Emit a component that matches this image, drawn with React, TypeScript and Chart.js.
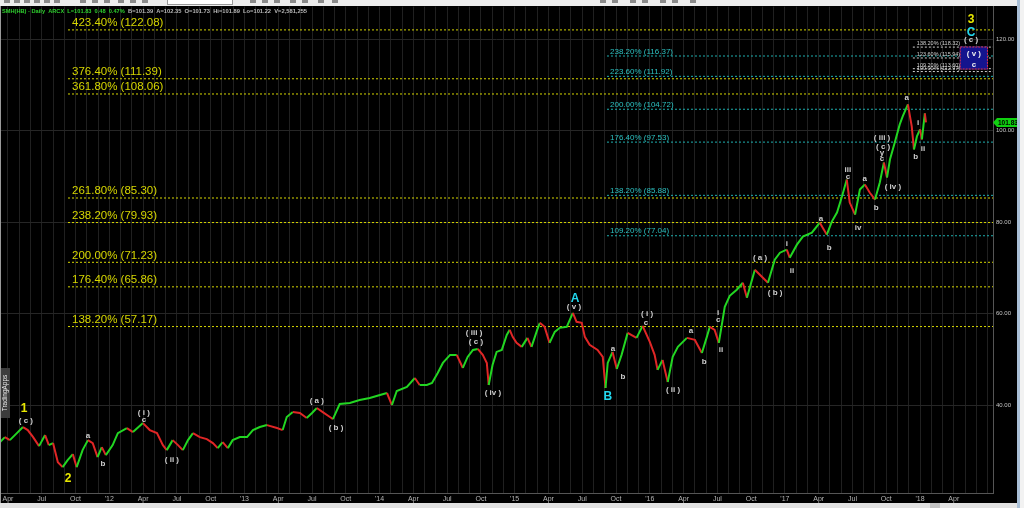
import React, { useEffect, useRef } from "react";
import { Chart, registerables } from "chart.js";

Chart.register(...registerables);

// ---------- data ----------
const priceDates = [
  "2011-03-10","2011-03-23","2011-04-06","2011-04-25","2011-05-11","2011-05-24","2011-06-08","2011-06-24",
  "2011-07-10","2011-07-20","2011-08-01","2011-08-14","2011-08-27","2011-09-10","2011-09-24","2011-10-04",
  "2011-10-20","2011-11-04","2011-11-17","2011-11-30","2011-12-11","2011-12-22","2012-01-10","2012-01-24",
  "2012-02-18","2012-03-04","2012-03-31","2012-04-19","2012-05-08","2012-05-24","2012-06-04","2012-06-20",
  "2012-07-04","2012-07-17","2012-07-31","2012-08-14","2012-09-02","2012-09-21","2012-10-07","2012-10-20",
  "2012-11-03","2012-11-17","2012-11-30","2012-12-19","2013-01-08","2013-01-24","2013-02-12","2013-03-01",
  "2013-03-28","2013-04-13","2013-04-24","2013-05-10","2013-05-29","2013-06-17","2013-07-01","2013-07-14",
  "2013-07-30","2013-08-19","2013-08-27","2013-09-15","2013-10-12","2013-11-08","2013-12-05","2014-01-02",
  "2014-01-21","2014-02-04","2014-02-17","2014-03-14","2014-04-05","2014-04-18","2014-05-07","2014-05-21",
  "2014-06-06","2014-06-20","2014-07-09","2014-07-27","2014-08-13","2014-08-26","2014-09-10","2014-09-23",
  "2014-10-06","2014-10-17","2014-10-22","2014-11-02","2014-11-13","2014-11-27","2014-12-10","2014-12-18",
  "2014-12-26","2015-01-06","2015-01-20","2015-02-05","2015-02-16","2015-03-01","2015-03-08","2015-03-21",
  "2015-04-04","2015-04-18","2015-05-01","2015-05-20","2015-06-06","2015-06-16","2015-06-30","2015-07-08",
  "2015-07-21","2015-08-12","2015-08-26","2015-09-03","2015-09-09","2015-09-22","2015-10-03","2015-10-16",
  "2015-11-02","2015-11-26","2015-12-12","2016-01-01","2016-01-14","2016-01-22","2016-02-05","2016-02-19",
  "2016-03-02","2016-03-16","2016-04-10","2016-05-01","2016-05-20","2016-06-03","2016-06-11","2016-06-24",
  "2016-07-05","2016-07-21","2016-08-04","2016-08-23","2016-09-09","2016-09-20","2016-10-11","2016-10-30",
  "2016-11-16","2016-12-04","2016-12-18","2017-01-06","2017-01-14","2017-02-03","2017-02-19","2017-03-13",
  "2017-04-04","2017-04-23","2017-05-06","2017-05-20","2017-06-03","2017-06-16","2017-06-24","2017-07-08",
  "2017-07-21","2017-08-04","2017-08-17","2017-09-01","2017-09-14","2017-09-25","2017-10-03","2017-10-11",
  "2017-10-24","2017-11-07","2017-11-15","2017-11-29","2017-12-09","2017-12-15","2017-12-23","2018-01-01",
  "2018-01-06","2018-01-14","2018-01-17",
];
const priceCloses = [
  31.89,32.98,32.32,33.86,35.18,34.52,32.98,31.01,
  33.42,31.23,31.67,27.5,26.4,27.94,29.25,26.4,
  30.13,32.32,31.67,28.6,30.79,29.04,31.23,33.86,
  34.96,34.08,36.05,34.52,33.86,31.23,30.13,32.32,
  31.23,30.13,32.32,33.86,32.98,32.54,31.67,30.57,
  31.89,30.57,32.32,32.98,32.98,34.52,35.18,35.61,
  34.96,34.52,37.37,38.46,38.25,37.15,38.25,39.34,
  38.46,37.37,36.93,40.22,40.44,41.1,41.54,42.19,
  42.63,40.0,43.07,43.95,45.92,44.39,44.39,44.82,
  47.02,49.21,50.97,50.97,48.11,50.53,52.06,52.28,
  50.97,49.21,44.39,48.77,51.62,52.06,55.35,56.45,
  54.91,53.6,52.72,54.69,52.72,56.45,57.98,57.11,
  53.6,56.01,56.89,57.11,60.18,58.2,57.98,54.91,
  53.16,52.06,50.53,43.73,49.21,51.62,47.89,50.97,
  55.79,54.69,57.32,53.82,50.97,47.68,49.87,45.04,
  50.53,52.72,54.69,54.25,51.4,54.91,57.11,56.45,
  53.6,61.49,63.9,65.22,66.75,63.46,69.61,68.07,
  66.75,71.8,73.33,73.99,72.24,75.09,76.84,77.72,
  79.91,77.28,80.13,82.11,85.62,89.34,84.3,81.67,
  87.15,88.25,86.49,84.96,88.68,93.07,89.78,93.73,
  97.46,101.4,103.16,105.8,100.97,95.92,98.77,100.31,
  98.11,103.8,101.83,
];

const yellowRatios = ["138.20%","176.40%","200.00%","238.20%","261.80%","361.80%","376.40%","423.40%"];
const yellowLevels = [57.17, 65.86, 71.23, 79.93, 85.3, 108.06, 111.39, 122.08];
const yellowFrom = "2011-09-11";

const tealRatios = ["109.20%","138.20%","176.40%","200.00%","223.60%","238.20%"];
const tealLevels = [77.04, 85.88, 97.53, 104.72, 111.92, 116.37];
const tealFrom = "2015-09-07";

const targetRatios = ["100.00%","109.20%","123.60%","138.20%"];
const targetLevels = [112.97, 113.6, 115.94, 118.32];
const targetFrom = "2017-12-12";

const targetBoxDates = ["2018-04-17", "2018-07-02"];
const targetBoxPrices = [113.41, 118.44];
const targetBoxText = ["( v )", "c"];
const targetBoxTextPrices = [116.8, 114.5];

const waveText = [
  "1","( c )","2","a","b","( i )","c","( ii )","( a )","( b )","( iii )","( c )","( iv )",
  "A","( v )","B","a","b","( i )","c","( ii )","a","b","i","c","ii",
  "( a )","( b )","i","ii","a","b","iii","c","iv","a","b",
  "( iii )","( c )","y","c","( iv )","a","b","i","ii","3","C","( c )",
];
const waveDates = [
  "2011-05-14","2011-05-19","2011-09-11","2011-11-04","2011-12-14","2012-04-03","2012-04-03","2012-06-18",
  "2013-07-14","2013-09-05","2014-09-13","2014-09-18","2014-11-03",
  "2015-06-12","2015-06-09","2015-09-09","2015-09-23","2015-10-20","2015-12-24","2015-12-21","2016-03-03",
  "2016-04-21","2016-05-26","2016-07-03","2016-07-03","2016-07-11",
  "2016-10-25","2016-12-05","2017-01-06","2017-01-20","2017-04-07","2017-04-29","2017-06-19","2017-06-19",
  "2017-07-16","2017-08-04","2017-09-04",
  "2017-09-20","2017-09-23","2017-09-20","2017-09-20","2017-10-19","2017-11-26","2017-12-20","2017-12-26",
  "2018-01-09","2018-05-17","2018-05-17","2018-05-17",
];
const wavePrices = [
  39.1,36.48,23.81,33.2,27.08,38.23,36.7,27.96,
  40.85,34.95,55.71,53.75,42.6,
  63.36,61.4,41.73,52.23,46.1,59.87,57.9,43.26,
  56.15,49.37,60.08,58.55,51.99,
  72.11,64.46,75.38,69.48,80.84,74.51,91.56,90.03,
  78.88,89.59,83.25,
  98.55,96.58,95.27,93.96,87.84,107.29,94.4,101.83,
  96.15,124.34,121.5,119.97,
];
const waveKinds = [
  "y","w","y","w","w","w","w","w","w","w","w","w","w",
  "c","w","c","w","w","w","w","w","w","w","w","w","w",
  "w","w","w","w","w","w","w","w","w","w","w",
  "w","w","w","w","w","w","w","w","w","y","c","w",
];

const xTickDates = [
  "2011-04-01","2011-07-01","2011-10-01","2012-01-01","2012-04-01","2012-07-01","2012-10-01","2013-01-01",
  "2013-04-01","2013-07-01","2013-10-01","2014-01-01","2014-04-01","2014-07-01","2014-10-01","2015-01-01",
  "2015-04-01","2015-07-01","2015-10-01","2016-01-01","2016-04-01","2016-07-01","2016-10-01","2017-01-01",
  "2017-04-01","2017-07-01","2017-10-01","2018-01-01","2018-04-01",
];
const xTickLabels = [
  "Apr","Jul","Oct","'12","Apr","Jul","Oct","'13","Apr","Jul","Oct","'14","Apr","Jul","Oct","'15",
  "Apr","Jul","Oct","'16","Apr","Jul","Oct","'17","Apr","Jul","Oct","'18","Apr",
];
const yTicks = [40, 60, 80, 100, 120];

const headerMain = "SMH(HB) - Daily  ARCX  L=101.83  0.48  0.47%";
const headerRest = "B=101.39  A=102.35  O=101.73  Hi=101.89  Lo=101.22  V=2,581,255";

// ---------- helpers / styles ----------
const X_MIN = 2.29, X_MAX = 90.48, Y_MIN = 20.75, Y_MAX = 127.18;
const toM = (d: string) => {
  const [y, m, dd] = d.split("-").map(Number);
  return (y - 2011) * 12 + (m - 1) + (dd - 1) / 30.4;
};
const GREEN = "#22d622";
const RED = "#e02626";
const YELLOW = "#d6d600";
const TEAL = "#1fb0b0";
const FONT = '"Liberation Sans", Arial, sans-serif';

const tickLabelMap = new Map<number, string>();
xTickDates.forEach((d, i) => tickLabelMap.set(Math.round(toM(d)), xTickLabels[i]));

function levelSets(levels: number[], from: string, color: string) {
  return levels.map((v) => ({
    data: [{ x: toM(from), y: v }, { x: X_MAX, y: v }],
    borderColor: color,
    borderWidth: 1,
    borderDash: [2, 2],
    pointRadius: 0,
    fill: false,
  }));
}

const decor = {
  id: "decor",
  beforeDraw(chart: any) {
    const ctx = chart.ctx;
    ctx.save();
    ctx.fillStyle = "#000";
    ctx.fillRect(0, 0, chart.width, chart.height);
    ctx.restore();
  },
  afterDatasetsDraw(chart: any) {
    const ctx = chart.ctx;
    const xs = chart.scales.x, ys = chart.scales.y;
    const X = (d: string) => xs.getPixelForValue(toM(d));
    const Y = (v: number) => ys.getPixelForValue(v);
    ctx.save();
    ctx.textAlign = "left";
    ctx.textBaseline = "alphabetic";
    ctx.font = `11.5px ${FONT}`;
    ctx.fillStyle = YELLOW;
    yellowLevels.forEach((v, i) => ctx.fillText(`${yellowRatios[i]} (${v.toFixed(2)})`, X(yellowFrom) + 4, Y(v) - 3.5));
    ctx.font = `8px ${FONT}`;
    ctx.fillStyle = "#2cc0c0";
    tealLevels.forEach((v, i) => ctx.fillText(`${tealRatios[i]} (${v.toFixed(2)})`, X(tealFrom) + 3, Y(v) - 2.5));
    const bx0 = X(targetBoxDates[0]), bx1 = X(targetBoxDates[1]);
    const by0 = Y(targetBoxPrices[1]), by1 = Y(targetBoxPrices[0]);
    ctx.fillStyle = "#14148e";
    ctx.fillRect(bx0, by0, bx1 - bx0, by1 - by0);
    ctx.strokeStyle = "#e0304a";
    ctx.lineWidth = 1;
    ctx.setLineDash([2, 1]);
    ctx.strokeRect(bx0 + 0.5, by0 + 0.5, bx1 - bx0 - 1, by1 - by0 - 1);
    ctx.setLineDash([]);
    ctx.font = `5.5px ${FONT}`;
    ctx.fillStyle = "#d0d0d0";
    targetLevels.forEach((v, i) => ctx.fillText(`${targetRatios[i]} (${v.toFixed(2)})`, X(targetFrom) + 4, Y(v) - 2));
    ctx.textAlign = "center";
    ctx.textBaseline = "middle";
    ctx.font = `bold 8px ${FONT}`;
    ctx.fillStyle = "#f0f0f0";
    targetBoxText.forEach((t, i) => ctx.fillText(t, (bx0 + bx1) / 2, Y(targetBoxTextPrices[i])));
    waveText.forEach((t, i) => {
      const k = waveKinds[i];
      if (k === "y") { ctx.font = `bold 12px ${FONT}`; ctx.fillStyle = "#e8e800"; }
      else if (k === "c") { ctx.font = `bold 12px ${FONT}`; ctx.fillStyle = "#22d8ee"; }
      else { ctx.font = `bold 8px ${FONT}`; ctx.fillStyle = "#cfcfcf"; }
      ctx.fillText(t, X(waveDates[i]), Y(wavePrices[i]));
    });
    ctx.restore();
  },
  afterDraw(chart: any) {
    const ctx = chart.ctx;
    const ys = chart.scales.y;
    const W = chart.width, H = chart.height;
    ctx.save();
    ctx.textAlign = "left";
    ctx.textBaseline = "middle";
    ctx.font = `bold 7px ${FONT}`;
    const mw = ctx.measureText(headerMain).width;
    const s1 = 7 * 123 / mw;
    ctx.font = `bold ${s1.toFixed(2)}px ${FONT}`;
    ctx.fillStyle = "#2ed02e";
    ctx.fillText(headerMain, 2, 11);
    ctx.font = `bold 7px ${FONT}`;
    const rw = ctx.measureText(headerRest).width;
    const s2 = 7 * 179 / rw;
    ctx.font = `bold ${s2.toFixed(2)}px ${FONT}`;
    ctx.fillStyle = "#b8b8b8";
    ctx.fillText(headerRest, 128, 11);
    const last = priceCloses[priceCloses.length - 1];
    const ty = ys.getPixelForValue(last);
    ctx.fillStyle = "#10d010";
    ctx.beginPath();
    ctx.moveTo(993, ty);
    ctx.lineTo(997, ty - 4.5);
    ctx.lineTo(1017, ty - 4.5);
    ctx.lineTo(1017, ty + 4.5);
    ctx.lineTo(997, ty + 4.5);
    ctx.closePath();
    ctx.fill();
    ctx.fillStyle = "#000";
    ctx.font = `bold 6.5px ${FONT}`;
    ctx.fillText(last.toFixed(2), 998, ty + 0.5);
    ctx.fillStyle = "#3c3c3c";
    ctx.fillRect(0, 368, 10, 50);
    ctx.save();
    ctx.translate(5.5, 393);
    ctx.rotate(-Math.PI / 2);
    ctx.textAlign = "center";
    ctx.fillStyle = "#e8e8e8";
    ctx.font = `6.5px ${FONT}`;
    ctx.fillText("TradingApps", 0, 0);
    ctx.restore();
    ctx.fillStyle = "#9a9a9a";
    ctx.fillRect(0, 6, 1, 497);
    ctx.fillStyle = "#ececec";
    ctx.fillRect(0, 0, W, 6);
    ctx.fillStyle = "#8a8a8a";
    [4, 14, 24, 34, 44, 54, 80, 92, 104, 118, 130, 142, 250, 262, 274, 290, 302, 318, 332, 600, 612, 630, 642, 660, 672, 690].forEach((x) => ctx.fillRect(x, 0, 6, 3));
    ctx.fillStyle = "#ffffff";
    ctx.fillRect(167, 0, 66, 5);
    ctx.strokeStyle = "#999";
    ctx.strokeRect(167.5, -0.5, 65, 5);
    ctx.fillStyle = "#e2e2e2";
    ctx.fillRect(0, 503, W, H - 503);
    ctx.fillStyle = "#c2c2c2";
    ctx.fillRect(930, 503, 10, H - 503);
    ctx.fillStyle = "#a9bfd6";
    ctx.fillRect(1017, 0, 3, H);
    ctx.fillStyle = "#f2f2f2";
    ctx.fillRect(1020, 0, W - 1020, H);
    ctx.restore();
  },
};

export default function App() {
  const ref = useRef<HTMLCanvasElement>(null);
  useEffect(() => {
    document.body.style.margin = "0";
    document.body.style.background = "#000";
    const canvas = ref.current!;
    const priceSet = {
      data: priceDates.map((d, i) => ({ x: toM(d), y: priceCloses[i] })),
      borderColor: GREEN,
      borderWidth: 2,
      pointRadius: 0,
      tension: 0,
      fill: false,
      segment: {
        borderColor: (c: any) => (c.p1.parsed.y >= c.p0.parsed.y ? GREEN : RED),
      },
    };
    const chart = new Chart(canvas, {
      type: "line",
      data: {
        datasets: [
          priceSet,
          ...levelSets(targetLevels, targetFrom, "#cfcfcf"),
          ...levelSets(tealLevels, tealFrom, TEAL),
          ...levelSets(yellowLevels, yellowFrom, YELLOW),
        ] as any,
      },
      options: {
        animation: false,
        responsive: false,
        maintainAspectRatio: false,
        events: [],
        layout: { padding: { top: 6, left: 0, right: 0, bottom: 0 } },
        plugins: { legend: { display: false }, tooltip: { enabled: false } },
        scales: {
          x: {
            type: "linear",
            min: X_MIN,
            max: X_MAX,
            afterFit: (s: any) => { s.height = 15; },
            afterBuildTicks: (s: any) => {
              const t = [];
              for (let m = Math.ceil(X_MIN); m <= Math.floor(X_MAX); m++) t.push({ value: m });
              s.ticks = t;
            },
            ticks: {
              autoSkip: false,
              maxRotation: 0,
              minRotation: 0,
              padding: 2,
              color: "#b4b4b4",
              font: { family: FONT, size: 7 },
              callback: (v: any) => tickLabelMap.get(Math.round(Number(v))) ?? "",
            },
            grid: { color: "#202020", drawTicks: false, lineWidth: 1 },
            border: { color: "#555", width: 1 },
          },
          y: {
            type: "linear",
            position: "right",
            min: Y_MIN,
            max: Y_MAX,
            afterFit: (s: any) => { s.width = 31; },
            afterBuildTicks: (s: any) => { s.ticks = yTicks.map((v) => ({ value: v })); },
            ticks: {
              padding: 3,
              color: "#c4c4c4",
              font: { family: FONT, size: 6 },
              callback: (v: any) => Number(v).toFixed(2),
            },
            grid: { color: "#262626", drawTicks: false, lineWidth: 1 },
            border: { color: "#555", width: 1 },
          },
        },
      } as any,
      plugins: [decor],
    });
    return () => chart.destroy();
  }, []);
  return (
    <canvas
      ref={ref}
      width={1024}
      height={508}
      style={{ display: "block", width: 1024, height: 508 }}
    />
  );
}
